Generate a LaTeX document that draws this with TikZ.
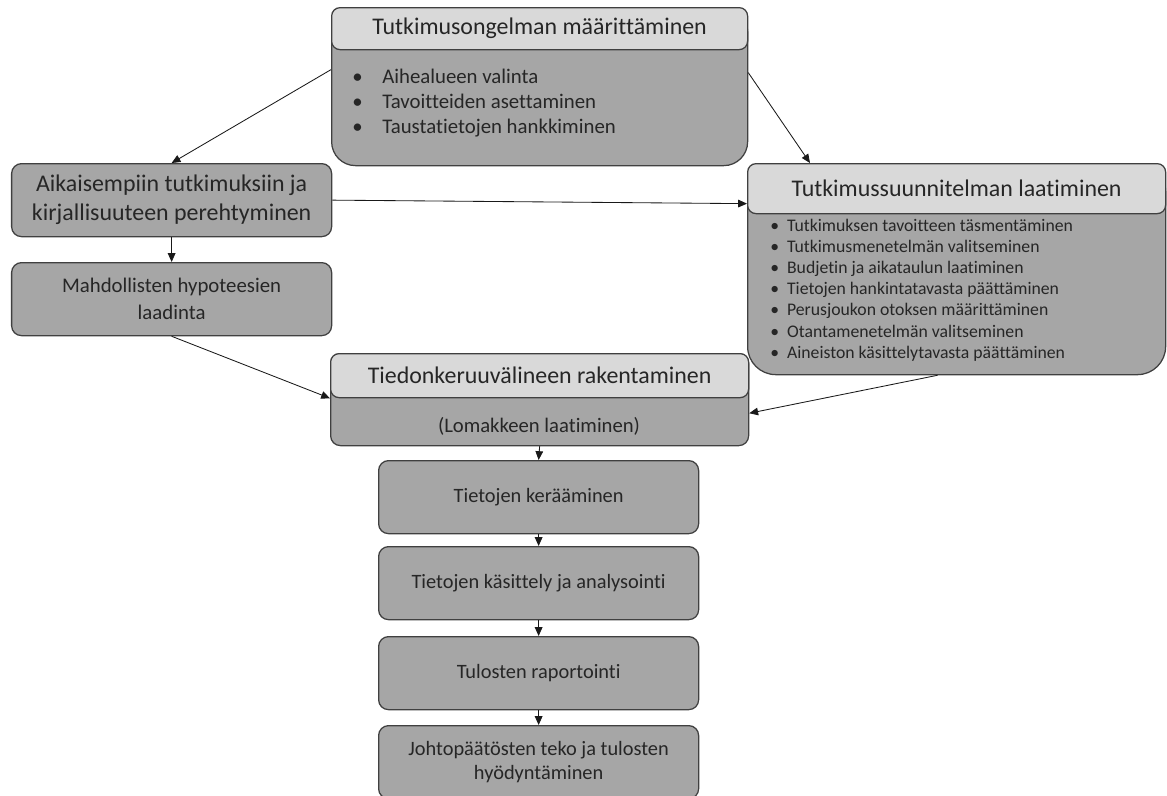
\documentclass[tikz,border=0pt]{standalone}
\usepackage{fontspec}
\setmainfont{Carlito}[Ligatures=NoCommon]
\usepackage{xcolor}
\usepackage{tikz}
\usetikzlibrary{arrows.meta,positioning,calc}

\definecolor{headgray}{HTML}{D9D9D9}
\definecolor{bodygray}{HTML}{A6A6A6}
\definecolor{edgegray}{HTML}{404040}

\begin{document}
\begin{tikzpicture}[
    font=\fontsize{17}{20.6}\selectfont,
    box/.style={draw=edgegray, line width=0.9pt, fill=bodygray, rounded corners=7pt,
                align=center, text=black!85, inner sep=2pt},
    head/.style={box, fill=headgray, rounded corners=6pt},
    stepbox/.style={box, minimum width=8cm, minimum height=1.825cm,
                    font=\fontsize{14.5}{17}\selectfont},
    items/.style={align=left, inner sep=0pt, text=black!85, anchor=west},
    arrow/.style={-{Triangle[length=2.2mm, width=1.9mm]}, line width=0.6pt, draw=black!90}
]
\useasboundingbox (0,0) rectangle (29.175,-19.875);

% Research problem with its sub-tasks.
\node[box, rounded corners=17pt, minimum width=10.4cm, minimum height=3.95cm, anchor=north west] (prob) at (8.275,-0.175) {};
\node[head, minimum width=10.4cm, minimum height=1.05cm, anchor=north] (probh) at (prob.north) {Tutkimusongelman määrittäminen};
\node[items, font=\fontsize{14.8}{17.7}\selectfont] (probi) at (8.8,-2.575)
    {\makebox[0.75cm][l]{\textbullet}Aihealueen valinta\\
     \makebox[0.75cm][l]{\textbullet}Tavoitteiden asettaminen\\
     \makebox[0.75cm][l]{\textbullet}Taustatietojen hankkiminen};

% Left column.
\node[box, minimum width=8cm, minimum height=1.825cm, anchor=north west] (lit) at (0.275,-4.075)
    {Aikaisempiin tutkimuksiin ja\\kirjallisuuteen perehtyminen};
\node[stepbox, anchor=north west, font=\fontsize{14.8}{19}\selectfont] (hyp) at (0.275,-6.55)
    {Mahdollisten hypoteesien\\laadinta};

% Research plan with its sub-tasks.
\node[box, rounded corners=20pt, minimum width=10.45cm, minimum height=5.275cm, anchor=north west] (plan) at (18.675,-4.075) {};
\node[head, minimum width=10.45cm, minimum height=1.25cm, anchor=north] (planh) at (plan.north) {Tutkimussuunnitelman laatiminen};
\node[items, font=\fontsize{12.6}{15.1}\selectfont] (plani) at (19.25,-7.25)
    {\makebox[0.42cm][l]{\textbullet}Tutkimuksen tavoitteen täsmentäminen\\
     \makebox[0.42cm][l]{\textbullet}Tutkimusmenetelmän valitseminen\\
     \makebox[0.42cm][l]{\textbullet}Budjetin ja aikataulun laatiminen\\
     \makebox[0.42cm][l]{\textbullet}Tietojen hankintatavasta päättäminen\\
     \makebox[0.42cm][l]{\textbullet}Perusjoukon otoksen määrittäminen\\
     \makebox[0.42cm][l]{\textbullet}Otantamenetelmän valitseminen\\
     \makebox[0.42cm][l]{\textbullet}Aineiston käsittelytavasta päättäminen};

% Data collection instrument.
\node[box, minimum width=10.45cm, minimum height=2.3cm, anchor=north west] (tool) at (8.25,-8.825) {};
\node[head, minimum width=10.45cm, minimum height=1.1cm, anchor=north] (toolh) at (tool.north) {Tiedonkeruuvälineen rakentaminen};
\node[font=\fontsize{14.7}{17}\selectfont, text=black!85] (toolb) at (13.475,-10.65) {(Lomakkeen laatiminen)};

% Main chain downwards.
\node[stepbox, anchor=north west] (collect) at (9.45,-11.5) {Tietojen kerääminen};
\node[stepbox, anchor=north west] (analyse) at (9.45,-13.65) {Tietojen käsittely ja analysointi};
\node[stepbox, anchor=north west] (report) at (9.45,-15.9) {Tulosten raportointi};
\node[stepbox, anchor=north west] (concl) at (9.45,-18.125) {Johtopäätösten teko ja tulosten\\hyödyntäminen};

% Connectors.
\draw[arrow] ([yshift=0.425cm]prob.west) -- (lit.north);
\draw[arrow] ([yshift=0.35cm]prob.east) -- ([xshift=1.575cm]plan.north west);
\draw[arrow] (lit.east) -- ([yshift=-0.375cm]planh.west);
\draw[arrow] (lit.south) -- (hyp.north);
\draw[arrow] (hyp.south) -- (toolh.south west);
\draw[arrow] ([xshift=-0.475cm]plan.south) -- ([yshift=-0.34cm]tool.east);
\draw[arrow] (tool.south) -- (collect.north);
\draw[arrow] (collect.south) -- (analyse.north);
\draw[arrow] (analyse.south) -- (report.north);
\draw[arrow] (report.south) -- (concl.north);

\end{tikzpicture}
\end{document}
